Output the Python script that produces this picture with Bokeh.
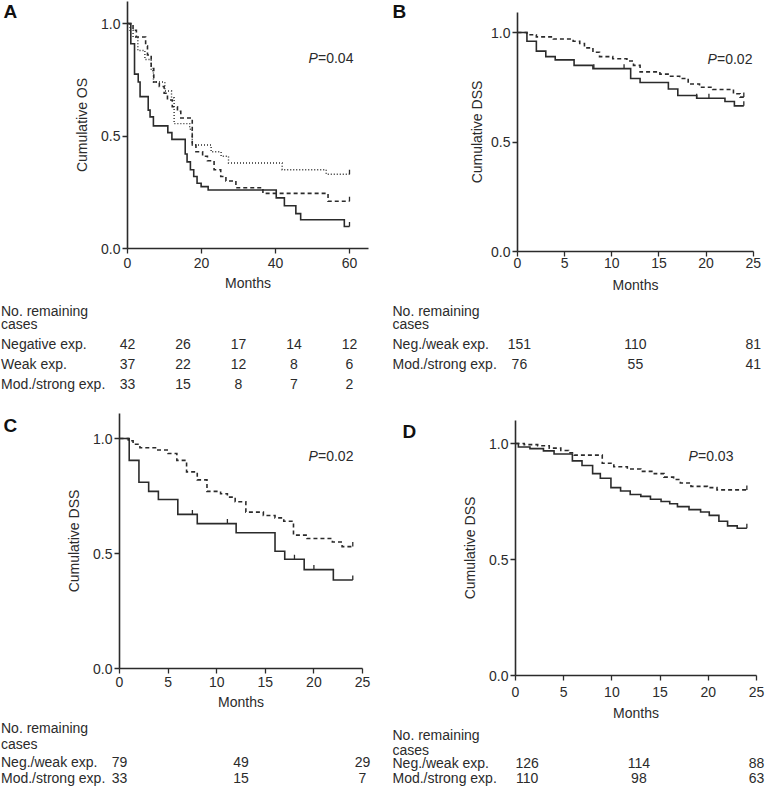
import numpy as np
from bokeh.plotting import figure
from bokeh.models import Range1d, FixedTicker, PrintfTickFormatter, Label
from bokeh.layouts import column, row
from bokeh.core.properties import value
from bokeh.embed import file_html
from bokeh.resources import INLINE

FONT = "Liberation Sans"
INK = "#2b2b2b"

# ---------------- data ----------------
# Panel A: cumulative OS, three expression groups
a_neg_t = [0, 0.7, 1.5, 2.8, 4.7, 6.4, 7.0, 10.1, 11.9, 12.6, 16.8, 17.5, 22.6, 25.3, 27.3, 41.8, 53.7, 60]
a_neg_s = [1.0, 0.97, 0.94, 0.88, 0.84, 0.79, 0.74, 0.70, 0.67, 0.555, 0.53, 0.46, 0.43, 0.41, 0.38, 0.35, 0.33, 0.33]
a_weak_t = [0, 1.5, 2.4, 4.9, 5.4, 6.4, 7.1, 8.6, 9.9, 10.8, 12.1, 13.5, 14.4, 17.5, 18.5, 20.3, 21.6, 23.4, 25.2, 26.6, 29.3, 36.6, 54.2, 60]
a_weak_s = [1.0, 0.97, 0.94, 0.90, 0.86, 0.80, 0.74, 0.72, 0.69, 0.66, 0.63, 0.61, 0.58, 0.46, 0.43, 0.41, 0.39, 0.35, 0.32, 0.30, 0.27, 0.245, 0.21, 0.21]
a_mod_t = [0, 0.9, 1.9, 2.9, 3.4, 5.6, 6.1, 7.0, 10.9, 12.0, 15.6, 16.1, 17.0, 17.9, 18.8, 19.9, 21.8, 40.2, 42.4, 45.5, 46.8, 58.6, 60]
a_mod_s = [1.0, 0.91, 0.775, 0.74, 0.675, 0.615, 0.585, 0.545, 0.515, 0.485, 0.42, 0.385, 0.35, 0.32, 0.29, 0.275, 0.26, 0.225, 0.19, 0.155, 0.128, 0.098, 0.098]
a_censor_neg = [60]
a_censor_weak = [60]
a_censor_mod = [60]
a_risk_months = [0, 15, 30, 45, 60]
a_risk_neg = [42, 26, 17, 14, 12]
a_risk_weak = [37, 22, 12, 8, 6]
a_risk_mod = [33, 15, 8, 7, 2]

# Panel B: cumulative DSS
b_neg_t = [0, 1.0, 2.0, 3.8, 5.9, 6.6, 7.1, 8.0, 8.7, 10.1, 11.6, 12.3, 13.0, 15.1, 16.1, 17.2, 18.1, 19.3, 20.7, 22.9, 23.6, 24]
b_neg_s = [1.0, 0.99, 0.98, 0.97, 0.96, 0.95, 0.93, 0.91, 0.89, 0.88, 0.87, 0.85, 0.82, 0.81, 0.80, 0.79, 0.765, 0.75, 0.74, 0.72, 0.705, 0.705]
b_mod_t = [0, 1.0, 2.0, 3.0, 4.0, 6.0, 8.0, 12.0, 13.0, 16.0, 17.0, 19.0, 22.0, 23.0, 24]
b_mod_s = [1.0, 0.96, 0.915, 0.89, 0.875, 0.85, 0.835, 0.79, 0.772, 0.742, 0.712, 0.70, 0.685, 0.665, 0.665]
b_censor_neg = [24]
b_censor_mod = [8.1, 11.3, 19.0, 20.3, 24]
b_risk_months = [0.2, 12.5, 25]
b_risk_neg = [151, 110, 81]
b_risk_mod = [76, 55, 41]

# Panel C: cumulative DSS
c_neg_t = [0, 0.9, 1.4, 2.1, 3.8, 5.0, 5.9, 6.9, 8.0, 9.0, 10.4, 11.1, 11.9, 13.0, 14.8, 16.0, 16.9, 17.9, 19.3, 21.9, 22.9, 24]
c_neg_s = [1.0, 0.99, 0.975, 0.96, 0.95, 0.935, 0.905, 0.855, 0.82, 0.77, 0.76, 0.745, 0.725, 0.68, 0.665, 0.655, 0.64, 0.58, 0.565, 0.55, 0.53, 0.53]
c_mod_t = [0, 1.0, 2.0, 3.0, 4.0, 6.0, 8.0, 12.0, 16.0, 17.0, 19.0, 22.0, 24]
c_mod_s = [1.0, 0.905, 0.81, 0.77, 0.735, 0.67, 0.63, 0.59, 0.51, 0.475, 0.43, 0.385, 0.385]
c_censor_neg = [24]
c_censor_mod = [7.5, 11.1, 18.0, 20.0, 24]
c_risk_months = [0, 12.5, 25]
c_risk_neg = [79, 49, 29]
c_risk_mod = [33, 15, 7]

# Panel D: cumulative DSS
d_neg_t = [0, 0.9, 2.3, 3.5, 4.7, 5.5, 6.1, 9.0, 10.2, 11.6, 13.0, 14.4, 15.4, 16.4, 17.1, 18.2, 19.9, 20.9, 24]
d_neg_s = [1.0, 0.995, 0.99, 0.98, 0.97, 0.96, 0.95, 0.915, 0.90, 0.89, 0.88, 0.87, 0.855, 0.845, 0.83, 0.815, 0.81, 0.80, 0.80]
d_mod_t = [0, 0.3, 1.5, 2.9, 4.0, 5.9, 6.9, 8.0, 8.8, 9.9, 10.9, 11.9, 13.0, 14.0, 15.1, 16.0, 16.8, 18.0, 19.2, 20.1, 21.1, 22.0, 23.0, 24]
d_mod_s = [1.0, 0.985, 0.978, 0.968, 0.955, 0.925, 0.905, 0.87, 0.85, 0.81, 0.795, 0.78, 0.772, 0.76, 0.75, 0.74, 0.728, 0.715, 0.705, 0.69, 0.665, 0.645, 0.635, 0.635]
d_censor_neg = [24]
d_censor_mod = [24]
d_risk_months = [1.2, 12.8, 25]
d_risk_neg = [126, 114, 88]
d_risk_mod = [110, 98, 63]

y_ticks = [0, 0.5, 1.0]

STYLES = {
    "solid": dict(line_dash="solid", line_width=1.6),
    "dashed": dict(line_dash="4 3", line_width=1.6),
    "dotted": dict(line_dash="1 2", line_width=1.4),
}


def surv_at(t, s, c):
    t = np.asarray(t)
    s = np.asarray(s)
    idx = np.searchsorted(t, c, side="right") - 1
    return s[np.clip(idx, 0, len(s) - 1)]


def make_panel(g):
    W, H = g["W"], g["H"]
    x0px, y0px, ppx, ppy = g["x0px"], g["y0px"], g["ppx"], g["ppy"]
    x_end, y_end = g["x_end"], g["y_end"]

    def dx(fig_x):
        return (fig_x - x0px) / ppx

    def dy(fig_y):
        return (y0px - fig_y) / ppy

    p = figure(width=W, height=H, output_backend="svg", toolbar_location=None,
               x_range=Range1d(dx(0), dx(W)), y_range=Range1d(dy(H), dy(0)),
               min_border=0, min_border_left=0, min_border_right=0,
               min_border_top=0, min_border_bottom=0)
    p.outline_line_color = None
    p.grid.visible = False
    p.background_fill_color = "white"
    p.border_fill_color = "white"

    p.xaxis.fixed_location = 0
    p.yaxis.fixed_location = 0
    p.xaxis.bounds = (0, x_end)
    p.yaxis.bounds = (0, y_end)
    p.xaxis.ticker = FixedTicker(ticks=g["xticks"])
    p.yaxis.ticker = FixedTicker(ticks=y_ticks)
    p.yaxis.formatter = PrintfTickFormatter(format="%.1f")
    for ax in (p.xaxis, p.yaxis):
        ax.axis_line_color = INK
        ax.axis_line_width = 1.6
        ax.major_tick_line_color = INK
        ax.major_tick_line_width = 1.3
        ax.major_tick_out = 5
        ax.major_tick_in = 0
        ax.minor_tick_out = 0
        ax.minor_tick_in = 0
        ax.major_label_text_font = FONT
        ax.major_label_text_font_size = "14px"
        ax.major_label_text_color = INK
        ax.axis_label_text_font = FONT
        ax.axis_label_text_font_size = "14px"
        ax.axis_label_text_font_style = "normal"
        ax.axis_label_text_color = INK
    p.xaxis.axis_label = "Months"
    p.yaxis.axis_label = g["ylabel"]
    p.xaxis.major_label_standoff = g["xls"]
    p.xaxis.axis_label_standoff = g["xas"]
    p.yaxis.major_label_standoff = 2
    p.yaxis.axis_label_standoff = g["yas"]

    tick_len = 4.5 / ppy
    for t, s, style, cens in g["curves"]:
        p.step(x=t, y=s, mode="after", line_color=INK, line_join="miter", **STYLES[style])
        if cens:
            cy = surv_at(t, s, cens)
            p.segment(x0=cens, y0=cy, x1=cens, y1=cy + tick_len, line_color=INK, line_width=1.3)

    # panel letter
    p.add_layout(Label(x=dx(g["letter_xy"][0]), y=dy(g["letter_xy"][1]), text=g["letter"],
                       text_font=FONT, text_font_style="bold", text_font_size="19px",
                       text_color="#111111", text_baseline="top", text_align="left"))
    # P value
    px, py = g["p_xy"]
    p.add_layout(Label(x=dx(px), y=dy(py), text="P", text_font=FONT, text_font_style="italic",
                       text_font_size="14px", text_color=INK, text_baseline="middle", text_align="left"))
    p.add_layout(Label(x=dx(px), y=dy(py), x_offset=9.5, text=g["p_val"], text_font=FONT,
                       text_font_size="14px", text_color=INK, text_baseline="middle", text_align="left"))

    # number-at-risk table
    lab_x = dx(g["table_x"])
    for text, yb in zip(["No. remaining", "cases"], g["head_y"]):
        p.add_layout(Label(x=lab_x, y=dy(yb), text=text, text_font=FONT,
                           text_font_size="14px", text_color=INK,
                           text_baseline="alphabetic", text_align="left"))
    for (name, counts), yb in zip(g["rows"], g["row_y"]):
        p.add_layout(Label(x=lab_x, y=dy(yb), text=name, text_font=FONT,
                           text_font_size="14px", text_color=INK,
                           text_baseline="alphabetic", text_align="left"))
        p.text(x=g["risk_months"], y=[dy(yb)] * len(counts), text=[str(c) for c in counts],
               text_font=value(FONT), text_font_size=value("14px"), text_color=INK,
               text_baseline="alphabetic", text_align="center")
    return p


pA = make_panel(dict(
    W=384, H=400, x0px=127, y0px=248, ppx=3.7, ppy=225, x_end=65, y_end=1.1,
    xticks=[0, 20, 40, 60], ylabel="Cumulative OS", xls=4, xas=4, yas=8,
    curves=[(a_neg_t, a_neg_s, "dotted", a_censor_neg),
            (a_weak_t, a_weak_s, "dashed", a_censor_weak),
            (a_mod_t, a_mod_s, "solid", a_censor_mod)],
    letter="A", letter_xy=(3, 0), p_xy=(308, 57), p_val="=0.04",
    table_x=0.5, head_y=[310, 323], row_y=[343, 363, 383],
    risk_months=a_risk_months,
    rows=[("Negative exp.", a_risk_neg), ("Weak exp.", a_risk_weak), ("Mod./strong exp.", a_risk_mod)],
))

pB = make_panel(dict(
    W=385, H=400, x0px=133, y0px=251, ppx=9.43, ppy=219, x_end=25, y_end=1.09,
    xticks=[0, 5, 10, 15, 20, 25], ylabel="Cumulative DSS", xls=1, xas=6, yas=3,
    curves=[(b_neg_t, b_neg_s, "dashed", b_censor_neg),
            (b_mod_t, b_mod_s, "solid", b_censor_mod)],
    letter="B", letter_xy=(8, 0), p_xy=(323, 58), p_val="=0.02",
    table_x=8, head_y=[310, 323], row_y=[343, 363],
    risk_months=b_risk_months,
    rows=[("Neg./weak exp.", b_risk_neg), ("Mod./strong exp.", b_risk_mod)],
))

pC = make_panel(dict(
    W=384, H=387, x0px=119, y0px=268, ppx=9.72, ppy=230, x_end=25, y_end=1.109,
    xticks=[0, 5, 10, 15, 20, 25], ylabel="Cumulative DSS", xls=3, xas=4, yas=8,
    curves=[(c_neg_t, c_neg_s, "dashed", c_censor_neg),
            (c_mod_t, c_mod_s, "solid", c_censor_mod)],
    letter="C", letter_xy=(3, 14), p_xy=(308, 55), p_val="=0.02",
    table_x=0.5, head_y=[327, 343], row_y=[361, 377],
    risk_months=c_risk_months,
    rows=[("Neg./weak exp.", c_risk_neg), ("Mod./strong exp.", c_risk_mod)],
))

pD = make_panel(dict(
    W=385, H=387, x0px=131, y0px=275, ppx=9.64, ppy=232, x_end=25, y_end=1.099,
    xticks=[0, 5, 10, 15, 20, 25], ylabel="Cumulative DSS", xls=6, xas=5, yas=8,
    curves=[(d_neg_t, d_neg_s, "dashed", d_censor_neg),
            (d_mod_t, d_mod_s, "solid", d_censor_mod)],
    letter="D", letter_xy=(18, 20), p_xy=(304, 55), p_val="=0.03",
    table_x=8, head_y=[334, 349], row_y=[362, 377],
    risk_months=d_risk_months,
    rows=[("Neg./weak exp.", d_risk_neg), ("Mod./strong exp.", d_risk_mod)],
))

layout = column(row(pA, pB), row(pC, pD))
open("out.html", "w").write(file_html(layout, INLINE))
